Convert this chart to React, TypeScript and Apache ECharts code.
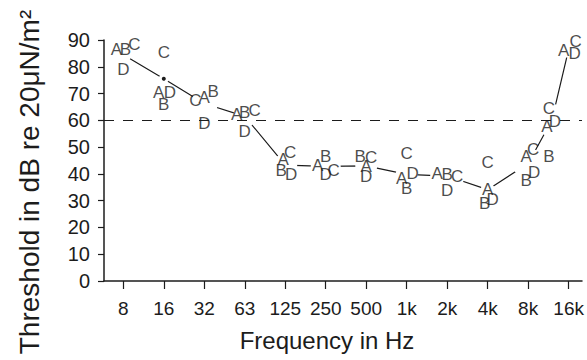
import React, { useEffect, useRef } from "react";
import * as echarts from "echarts";

// Octave-band tick labels on the frequency axis
const tickLabels = ["8", "16", "32", "63", "125", "250", "500", "1k", "2k", "4k", "8k", "16k"];
const tickPos = [0, 1, 2, 3, 4, 5, 6, 7, 8, 9, 10, 11];

// Measured frequencies (12k lies between 8k and 16k on the octave scale)
const measuredFreqs = ["8", "16", "32", "63", "125", "250", "500", "1k", "2k", "4k", "8k", "12k", "16k"];
const measuredPos = [0, 1, 2, 3, 4, 5, 6, 7, 8, 9, 10, 10.585, 11];

// Thresholds (dB re 20 µN/m²) for subjects A–D
const subjA = [86.5, 70.3, 68.5, 62, 45.4, 43.3, 42.6, 38.3, 40.2, 34.2, 46.4, 57.8, 86.2];
const subjB = [86.5, 66, 70.6, 62.8, 41.4, 46.4, 46.4, 34.6, 39.9, 29, 37.7, 46.6, 90.2];
const subjC = [88.4, 85.2, 67.5, 63.5, 47.9, 41.4, 46, 47.6, 38.9, 44.3, 49.1, 64.4, 89.3];
const subjD = [79, 70.3, 59, 55.7, 39.9, 39.6, 39.2, 40.2, 33.7, 30.5, 40.4, 59.7, 85];

// Mean threshold curve
const meanThreshold = [84.5, 75.5, 66.3, 61.5, 43.3, 42.8, 43, 39.8, 39.2, 34.1, 43.9, 60, 86.5];

const referenceLevel = 60;

// ---- styling (letter nudges so overlapping letters stay readable, gaps in the curve) ----
const nudgeA = [-7, -5, 0, -8, -2, -8, 0, -5, -10, 0, -2, -5, -5];
const nudgeB = [2, 0, 9, 0, -4, 0, -6, 0, 0, -3, -2, -3, -3];
const nudgeC = [11, 0, -9, 10, 5, 8, 5, 0, 10, 0, 5, -3, 7];
const nudgeD = [0, 6, 0, 0, 6, 0, 0, 6, 0, 5, 6, 3, 6];
const gapSize = [16, 0, 27, 23, 24, 30, 22, 22, 34, 14, 31, 33, 17];

const FONT = "'Liberation Sans', Arial, Helvetica, sans-serif";
const INK = "#1c1c1c";

function letterSeries(name: string, vals: number[], nudge: number[]) {
  return {
    name,
    type: "scatter",
    z: 5,
    silent: true,
    symbol: "circle",
    symbolSize: 1,
    itemStyle: { color: "rgba(0,0,0,0)" },
    label: {
      show: true,
      position: "inside",
      formatter: name,
      fontSize: 17,
      fontFamily: FONT,
      color: INK,
    },
    data: vals.map((v, i) => ({
      value: [measuredPos[i], v],
      name: measuredFreqs[i],
      label: { offset: [nudge[i], 0] },
    })),
  };
}

export default function App() {
  const ref = useRef<HTMLDivElement>(null);
  useEffect(() => {
    if (!ref.current) return;
    const chart = echarts.init(ref.current, undefined, { renderer: "svg" });
    const option = {
      animation: false,
      backgroundColor: "#fff",
      textStyle: { fontFamily: FONT },
      grid: { left: 104, right: 5, top: 40, bottom: 79 },
      xAxis: {
        type: "value",
        min: -0.477,
        max: 11.33,
        splitLine: { show: false },
        axisLine: { show: true, onZero: false, lineStyle: { color: INK, width: 1.5 } },
        axisTick: {
          show: true,
          customValues: tickPos,
          length: 8,
          lineStyle: { color: INK, width: 1.2 },
        },
        axisLabel: {
          customValues: tickPos,
          formatter: (v: number) => tickLabels[Math.round(v)] ?? "",
          fontSize: 19,
          fontFamily: FONT,
          color: INK,
          margin: 18,
        },
      },
      yAxis: {
        type: "value",
        min: 0,
        max: 90,
        interval: 10,
        splitLine: { show: false },
        axisLine: { show: true, onZero: false, lineStyle: { color: INK, width: 1.5 } },
        axisTick: { show: true, length: 6, lineStyle: { color: INK, width: 1.2 } },
        axisLabel: { fontSize: 20, fontFamily: FONT, color: INK, margin: 14 },
      },
      graphic: [
        {
          type: "text",
          x: 29,
          y: 182,
          rotation: Math.PI / 2,
          style: {
            text: "Threshold in dB re 20\u03bcN/m\u00b2",
            fontSize: 28,
            fontFamily: FONT,
            fill: INK,
            textAlign: "center",
            textVerticalAlign: "middle",
          },
        },
        {
          type: "text",
          x: 327,
          y: 340,
          style: {
            text: "Frequency in Hz",
            fontSize: 24,
            fontFamily: FONT,
            fill: INK,
            textAlign: "center",
            textVerticalAlign: "middle",
          },
        },
      ],
      series: [
        {
          name: "mean",
          type: "line",
          z: 2,
          silent: true,
          symbol: "circle",
          itemStyle: { color: "#fff", borderWidth: 0 },
          lineStyle: { color: INK, width: 1.2 },
          data: meanThreshold.map((v, i) =>
            gapSize[i] === 0
              ? {
                  value: [measuredPos[i], v],
                  symbolSize: 7,
                  itemStyle: { color: INK, borderColor: "#fff", borderWidth: 3 },
                }
              : { value: [measuredPos[i], v], symbolSize: gapSize[i] }
          ),
          markLine: {
            silent: true,
            symbol: ["none", "none"],
            label: { show: false },
            lineStyle: { color: INK, width: 1.2, type: [10, 9] },
            data: [{ yAxis: referenceLevel }],
          },
        },
        letterSeries("A", subjA, nudgeA),
        letterSeries("B", subjB, nudgeB),
        letterSeries("C", subjC, nudgeC),
        letterSeries("D", subjD, nudgeD),
      ],
    };
    chart.setOption(option as any);
    return () => chart.dispose();
  }, []);
  return (
    <div
      ref={ref}
      style={{ position: "fixed", left: 0, top: 0, width: 587, height: 360, background: "#fff" }}
    />
  );
}
